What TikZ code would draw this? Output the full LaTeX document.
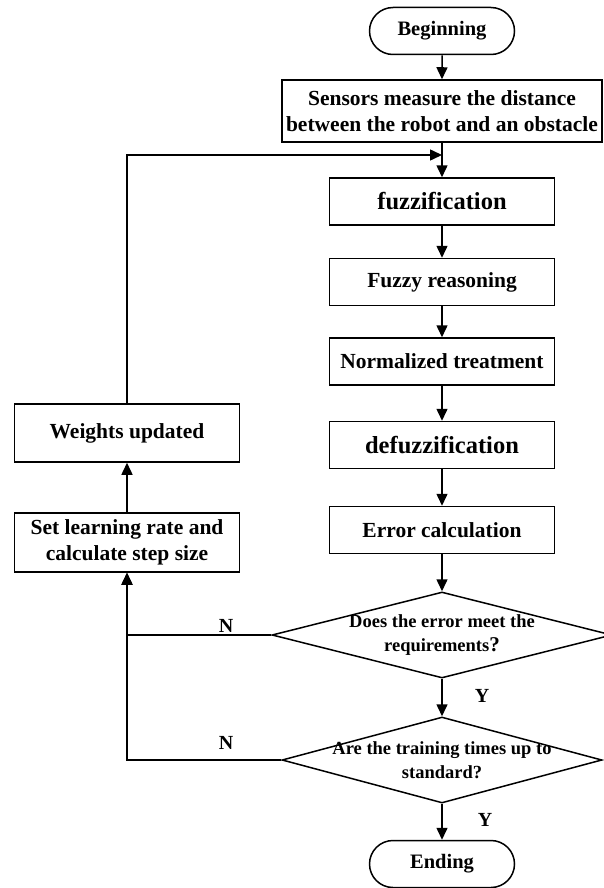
\documentclass[tikz,border=0pt]{standalone}
\usepackage{fontspec}
\setmainfont{Liberation Serif}
\usetikzlibrary{arrows.meta,shapes.geometric,shapes.misc,calc}

\begin{document}
\begin{tikzpicture}[x=1pt,y=-1pt,
  box/.style={draw, line width=1.5pt, minimum width=225pt, minimum height=47pt, inner sep=0pt, align=center, font=\fontsize{21.5}{26}\selectfont\bfseries},
  bigtxt/.style={font=\fontsize{24.5}{28}\selectfont\bfseries},
  terminal/.style={draw, line width=1.5pt, rounded rectangle, minimum width=145pt, minimum height=47pt, inner sep=0pt, font=\fontsize{20.5}{24}\selectfont\bfseries},
  decision/.style={draw, line width=1.5pt, diamond, inner sep=0pt, minimum width=#1, minimum height=86pt},
  qtext/.style={align=center, inner sep=0pt, font=\fontsize{18.5}{24}\selectfont\bfseries},
  yn/.style={inner sep=0pt, font=\fontsize{20}{24}\selectfont\bfseries},
  flow/.style={line width=1.5pt, -{Triangle[length=12pt,width=11pt]}}]
\useasboundingbox (0,0) rectangle (604,888);
% main column
\node[terminal] (start) at (442,31) {Beginning};
\node[box, minimum width=320pt, minimum height=62pt] (sense) at (442,111) {Sensors measure the distance\\between the robot and an obstacle};
\coordinate (merge) at (442,155);
\node[box, bigtxt] (fuzz) at (442,201.5) {fuzzification};
\node[box] (reason) at (442,282) {Fuzzy reasoning};
\node[box] (norm) at (442,361.5) {Normalized treatment};
\node[box, bigtxt] (defuzz) at (442,445) {defuzzification};
\node[box] (err) at (442,530) {Error calculation};
\node[decision=340pt] (meet) at (442,635) {};
\node[qtext] (meettxt) at (meet) {Does the error meet the\\requirements{\fontsize{21}{24}\selectfont ?}};
\node[decision=320pt] (times) at (442,760) {};
\node[qtext] (timestxt) at (times) {Are the training times up to\\standard?};
\node[terminal] (stop) at (442,864) {Ending};
% feedback column
\node[box, minimum height=59pt] (rate) at (127,542.5) {Set learning rate and\\calculate step size};
\node[box, minimum height=58pt] (weights) at (127,433) {Weights updated};
% labels
\node[yn] (n1) at (226,626) {N};
\node[yn] (n2) at (226,743) {N};
\node[yn] (y1) at (482,696) {Y};
\node[yn] (y2) at (485,820) {Y};
% connectors
\draw[flow] (start) -- (sense);
\draw[flow] (sense) -- (fuzz);
\draw[flow] (fuzz) -- (reason);
\draw[flow] (reason) -- (norm);
\draw[flow] (norm) -- (defuzz);
\draw[flow] (defuzz) -- (err);
\draw[flow] (err) -- (meet);
\draw[flow] (meet) -- (times);
\draw[flow] (times) -- (stop);
\draw[flow] (meet.west) -| (rate.south);
\draw[flow] (times.west) -| (rate.south);
\draw[flow] (rate) -- (weights);
\draw[flow] (weights.north) |- (merge);
\end{tikzpicture}
\end{document}
